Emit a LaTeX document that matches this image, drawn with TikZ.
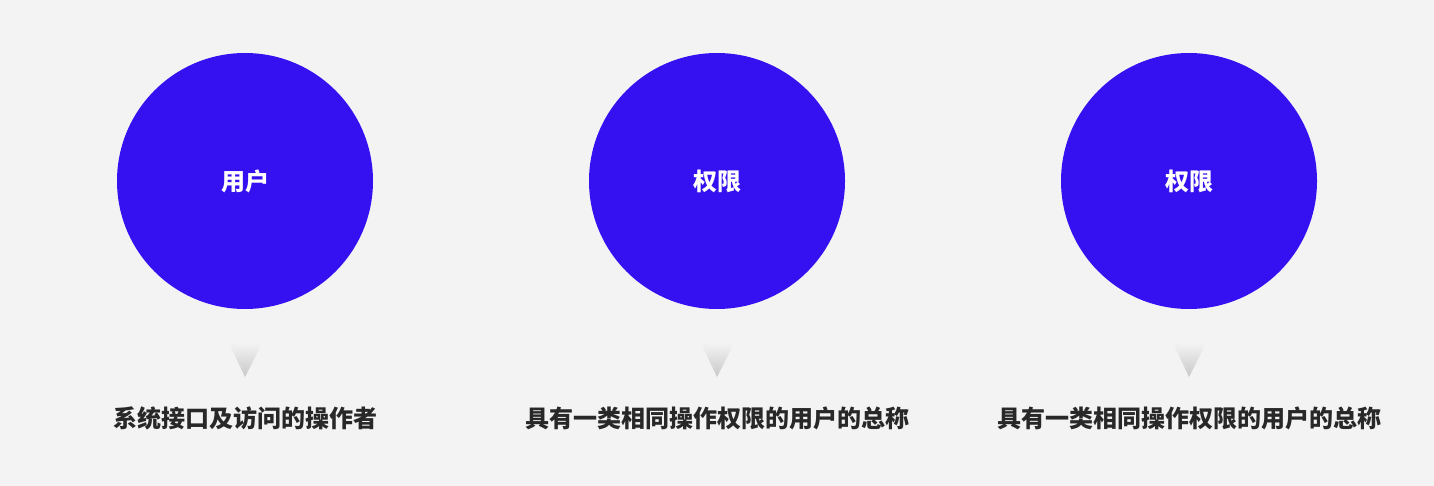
\documentclass[tikz,border=0pt]{standalone}
\usepackage{fontspec}
\newfontfamily\cjk{Noto Sans CJK SC}
\definecolor{bgc}{RGB}{243,243,243}
\definecolor{circ}{RGB}{53,17,242}
\definecolor{txt}{RGB}{40,40,40}
\definecolor{trig}{RGB}{200,200,200}
\begin{document}
\begin{tikzpicture}[x=1pt,y=-1pt,
  bubble/.style={circle,fill=circ,minimum size=256pt,inner sep=0pt,text=white,font=\cjk\bfseries\fontsize{24}{28}\selectfont},
  caption/.style={text=txt,font=\cjk\bfseries\fontsize{24}{28}\selectfont,inner sep=0pt},
  pointer/.style={top color=bgc,bottom color=trig,draw=none}]
\fill[bgc] (0,0) rectangle (1434,486);
\useasboundingbox (0,0) rectangle (1434,486);
\foreach \i/\x/\lab/\cap in {1/245/用户/系统接口及访问的操作者,2/717/权限/具有一类相同操作权限的用户的总称,3/1189/权限/具有一类相同操作权限的用户的总称}{
  \node[bubble] (c\i) at (\x,181) {\lab};
  \coordinate (tl\i) at (\x-16,343);
  \coordinate (tr\i) at (\x+17,343);
  \coordinate (tp\i) at (\x,377);
  \shade[pointer] (tl\i) -- (tr\i) -- (tp\i) -- cycle;
  \node[caption] (t\i) at (\x,418) {\cap};
}
\end{tikzpicture}
\end{document}
